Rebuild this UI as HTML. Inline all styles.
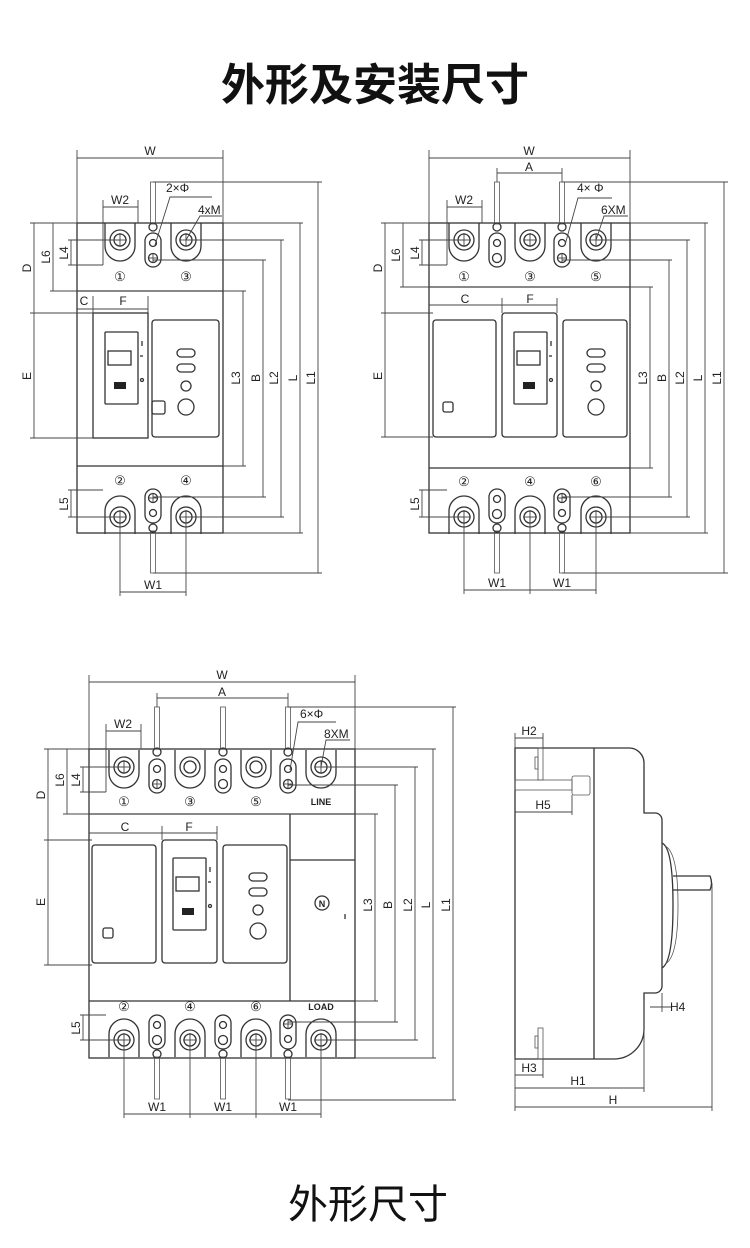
<!DOCTYPE html>
<html><head><meta charset="utf-8"><style>
html,body{margin:0;padding:0;background:#fff;}
svg{display:block;}
text{font-family:"Liberation Sans",Arial,sans-serif;fill:#222;}
.t{font-family:"Liberation Sans","Noto Sans CJK SC",sans-serif;}
.b{fill:none;stroke:#333;stroke-width:1.3;}
.d{fill:none;stroke:#444;stroke-width:0.9;}
.r{fill:none;stroke:#555;stroke-width:0.8;}
.lb{font-size:12px;}
</style></head><body>
<svg width="750" height="1248" viewBox="0 0 750 1248" xmlns="http://www.w3.org/2000/svg">
<defs>
<g id="cx"><circle r="10" class="b"/><circle r="6" class="b"/><line x1="-7" y1="0" x2="7" y2="0" class="d"/><line x1="0" y1="-7" x2="0" y2="7" class="d"/></g>
<g id="pl"><circle r="10" class="b"/><circle r="6" class="b"/></g>
<path id="lugT" d="M-15,-17 V6 A15,15 0 0 0 15,6 V-17" class="b"/>
<path id="lugB" d="M-15,17 V-6 A15,15 0 0 1 15,-6 V17" class="b"/>
<g id="slotT"><rect x="-8" y="-17" width="16" height="34" rx="8" class="b"/><circle cy="-7" r="3.5" class="b"/><circle cy="8" r="4.5" class="b"/><line x1="-4.5" y1="8" x2="4.5" y2="8" class="d"/><line x1="0" y1="3.5" x2="0" y2="12.5" class="d"/></g>
<g id="slotB"><rect x="-8" y="-17" width="16" height="34" rx="8" class="b"/><circle cy="7" r="3.5" class="b"/><circle cy="-8" r="4.5" class="b"/><line x1="-4.5" y1="-8" x2="4.5" y2="-8" class="d"/><line x1="0" y1="-12.5" x2="0" y2="-3.5" class="d"/></g>
<g id="slotP"><rect x="-8" y="-17" width="16" height="34" rx="8" class="b"/><circle cy="-7" r="3.5" class="b"/><circle cy="8" r="4.5" class="b"/></g>
<g id="rodT"><rect x="-2.5" y="0" width="5" height="42" class="r"/><circle cy="45" r="4" class="b"/></g>
<g id="rodB"><rect x="-2.5" y="0" width="5" height="42" class="r"/><circle cy="-3" r="4" class="b"/></g>
<g id="handle"><rect x="0" y="0" width="33" height="72" rx="1" class="b"/><rect x="3" y="19" width="23" height="14" class="b"/><rect x="9" y="50" width="12" height="7" fill="#222"/><line x1="37" y1="9" x2="37" y2="14" class="b"/><line x1="35" y1="24" x2="38" y2="24" class="b"/><circle cx="37" cy="48" r="1.5" class="b"/></g>
<g id="leds"><rect x="-9" y="-4" width="18" height="8" rx="4" class="b"/><rect x="-9" y="11" width="18" height="8" rx="4" class="b"/><circle cx="0" cy="33" r="5" class="b"/><circle cx="0" cy="54" r="8" class="b"/></g>
</defs>

<text x="375" y="100" text-anchor="middle" class="t" style="font-size:44px;font-weight:bold;fill:#111">外形及安装尺寸</text>
<text x="368" y="1218" text-anchor="middle" class="t" style="font-size:40px;fill:#111">外形尺寸</text>

<!-- ============ DRAWING 1 ============ -->
<rect x="77" y="223" width="146" height="310" class="b"/>
<line x1="77" y1="291" x2="223" y2="291" class="b"/>
<line x1="77" y1="466" x2="223" y2="466" class="b"/>
<use href="#lugT" x="120" y="240"/><use href="#cx" x="120" y="240"/>
<use href="#lugT" x="186" y="240"/><use href="#cx" x="186" y="240"/>
<use href="#lugB" x="120" y="517"/><use href="#cx" x="120" y="517"/>
<use href="#lugB" x="186" y="517"/><use href="#cx" x="186" y="517"/>
<use href="#slotT" x="153" y="250"/><use href="#slotB" x="153" y="506"/>
<use href="#rodT" x="153" y="182"/><use href="#rodB" x="153" y="531"/>
<text x="120" y="281" text-anchor="middle" style="font-size:13px">①</text>
<text x="186" y="281" text-anchor="middle" style="font-size:13px">③</text>
<text x="120" y="485" text-anchor="middle" style="font-size:13px">②</text>
<text x="186" y="485" text-anchor="middle" style="font-size:13px">④</text>
<rect x="93" y="313" width="55" height="125" class="b"/>
<use href="#handle" x="105" y="332"/>
<rect x="152" y="320" width="67" height="117" rx="3" class="b"/>
<use href="#leds" x="186" y="353"/>
<rect x="152" y="401" width="13" height="13" rx="2" class="b"/>
<line x1="77" y1="158" x2="223" y2="158" class="d"/><line x1="77" y1="150" x2="77" y2="223" class="d"/><line x1="223" y1="150" x2="223" y2="223" class="d"/>
<text x="150" y="155" text-anchor="middle" class="lb">W</text>
<line x1="103" y1="207" x2="138" y2="207" class="d"/><line x1="103" y1="200" x2="103" y2="265" class="d"/><line x1="138" y1="200" x2="138" y2="223" class="d"/>
<text x="120" y="204" text-anchor="middle" class="lb">W2</text>
<text x="166" y="192" class="lb">2×Φ</text><polyline points="212,197 170,197 155,245" class="d"/>
<text x="198" y="214" class="lb">4xM</text><polyline points="222,216 200,216 186,240" class="d"/>
<line x1="34" y1="223" x2="34" y2="438" class="d"/><line x1="30" y1="223" x2="77" y2="223" class="d"/><line x1="30" y1="313" x2="93" y2="313" class="d"/><line x1="30" y1="438" x2="93" y2="438" class="d"/>
<text transform="translate(31,268) rotate(-90)" text-anchor="middle" class="lb">D</text>
<text transform="translate(31,376) rotate(-90)" text-anchor="middle" class="lb">E</text>
<line x1="53" y1="223" x2="53" y2="291" class="d"/><line x1="50" y1="291" x2="246" y2="291" class="d"/>
<text transform="translate(50,257) rotate(-90)" text-anchor="middle" class="lb">L6</text>
<line x1="71" y1="240" x2="71" y2="265" class="d"/><line x1="68" y1="240" x2="120" y2="240" class="d"/><line x1="68" y1="265" x2="103" y2="265" class="d"/>
<text transform="translate(68,253) rotate(-90)" text-anchor="middle" class="lb">L4</text>
<line x1="71" y1="490" x2="71" y2="517" class="d"/><line x1="68" y1="490" x2="103" y2="490" class="d"/><line x1="68" y1="517" x2="120" y2="517" class="d"/>
<text transform="translate(68,504) rotate(-90)" text-anchor="middle" class="lb">L5</text>
<line x1="77" y1="309" x2="148" y2="309" class="d"/><line x1="93" y1="296" x2="93" y2="313" class="d"/><line x1="148" y1="296" x2="148" y2="313" class="d"/>
<text x="84" y="305" text-anchor="middle" class="lb">C</text><text x="123" y="305" text-anchor="middle" class="lb">F</text>
<line x1="243" y1="291" x2="243" y2="466" class="d"/><line x1="223" y1="466" x2="246" y2="466" class="d"/>
<line x1="263" y1="260" x2="263" y2="497" class="d"/><line x1="153" y1="260" x2="266" y2="260" class="d"/><line x1="153" y1="497" x2="266" y2="497" class="d"/>
<line x1="281" y1="240" x2="281" y2="517" class="d"/><line x1="186" y1="240" x2="284" y2="240" class="d"/><line x1="186" y1="517" x2="284" y2="517" class="d"/>
<line x1="300" y1="223" x2="300" y2="533" class="d"/><line x1="223" y1="223" x2="303" y2="223" class="d"/><line x1="223" y1="533" x2="303" y2="533" class="d"/>
<line x1="318" y1="182" x2="318" y2="573" class="d"/><line x1="153" y1="182" x2="322" y2="182" class="d"/><line x1="153" y1="573" x2="322" y2="573" class="d"/>
<text transform="translate(240,378) rotate(-90)" text-anchor="middle" class="lb">L3</text>
<text transform="translate(260,378) rotate(-90)" text-anchor="middle" class="lb">B</text>
<text transform="translate(278,378) rotate(-90)" text-anchor="middle" class="lb">L2</text>
<text transform="translate(297,378) rotate(-90)" text-anchor="middle" class="lb">L</text>
<text transform="translate(315,378) rotate(-90)" text-anchor="middle" class="lb">L1</text>
<line x1="120" y1="592" x2="186" y2="592" class="d"/><line x1="120" y1="517" x2="120" y2="596" class="d"/><line x1="186" y1="517" x2="186" y2="596" class="d"/>
<text x="153" y="589" text-anchor="middle" class="lb">W1</text>

<!-- ============ DRAWING 2 ============ -->
<rect x="429" y="223" width="201" height="310" class="b"/>
<line x1="429" y1="287" x2="630" y2="287" class="b"/>
<line x1="429" y1="468" x2="630" y2="468" class="b"/>
<use href="#lugT" x="464" y="240"/><use href="#cx" x="464" y="240"/>
<use href="#lugT" x="530" y="240"/><use href="#cx" x="530" y="240"/>
<use href="#lugT" x="596" y="240"/><use href="#cx" x="596" y="240"/>
<use href="#lugB" x="464" y="517"/><use href="#cx" x="464" y="517"/>
<use href="#lugB" x="530" y="517"/><use href="#cx" x="530" y="517"/>
<use href="#lugB" x="596" y="517"/><use href="#cx" x="596" y="517"/>
<use href="#slotP" x="497" y="250"/><use href="#slotT" x="562" y="250"/>
<use href="#slotP" x="497" y="506"/><use href="#slotB" x="562" y="506"/>
<use href="#rodT" x="497" y="182"/><use href="#rodT" x="562" y="182"/>
<use href="#rodB" x="497" y="531"/><use href="#rodB" x="562" y="531"/>
<text x="464" y="281" text-anchor="middle" style="font-size:13px">①</text>
<text x="530" y="281" text-anchor="middle" style="font-size:13px">③</text>
<text x="596" y="281" text-anchor="middle" style="font-size:13px">⑤</text>
<text x="464" y="486" text-anchor="middle" style="font-size:13px">②</text>
<text x="530" y="486" text-anchor="middle" style="font-size:13px">④</text>
<text x="596" y="486" text-anchor="middle" style="font-size:13px">⑥</text>
<rect x="433" y="320" width="63" height="117" rx="3" class="b"/>
<rect x="443" y="402" width="10" height="10" rx="2" class="b"/>
<rect x="502" y="313" width="55" height="124" rx="3" class="b"/>
<use href="#handle" x="514" y="332"/>
<rect x="563" y="320" width="64" height="117" rx="3" class="b"/>
<use href="#leds" x="596" y="353"/>
<line x1="429" y1="158" x2="630" y2="158" class="d"/><line x1="429" y1="150" x2="429" y2="223" class="d"/><line x1="630" y1="150" x2="630" y2="223" class="d"/>
<text x="529" y="155" text-anchor="middle" class="lb">W</text>
<line x1="497" y1="173" x2="562" y2="173" class="d"/><line x1="497" y1="168" x2="497" y2="182" class="d"/><line x1="562" y1="168" x2="562" y2="182" class="d"/>
<text x="529" y="171" text-anchor="middle" class="lb">A</text>
<line x1="447" y1="207" x2="482" y2="207" class="d"/><line x1="447" y1="200" x2="447" y2="265" class="d"/><line x1="482" y1="200" x2="482" y2="223" class="d"/>
<text x="464" y="204" text-anchor="middle" class="lb">W2</text>
<text x="577" y="192" class="lb">4× Φ</text><polyline points="612,198 578,198 565,245" class="d"/>
<text x="601" y="214" class="lb">6XM</text><polyline points="628,216 604,216 596,240" class="d"/>
<line x1="385" y1="223" x2="385" y2="437" class="d"/><line x1="381" y1="223" x2="429" y2="223" class="d"/><line x1="381" y1="313" x2="433" y2="313" class="d"/><line x1="381" y1="437" x2="433" y2="437" class="d"/>
<text transform="translate(382,268) rotate(-90)" text-anchor="middle" class="lb">D</text>
<text transform="translate(382,376) rotate(-90)" text-anchor="middle" class="lb">E</text>
<line x1="403" y1="223" x2="403" y2="287" class="d"/><line x1="400" y1="287" x2="653" y2="287" class="d"/>
<text transform="translate(400,255) rotate(-90)" text-anchor="middle" class="lb">L6</text>
<line x1="422" y1="240" x2="422" y2="265" class="d"/><line x1="419" y1="240" x2="464" y2="240" class="d"/><line x1="419" y1="265" x2="447" y2="265" class="d"/>
<text transform="translate(419,253) rotate(-90)" text-anchor="middle" class="lb">L4</text>
<line x1="422" y1="490" x2="422" y2="517" class="d"/><line x1="419" y1="490" x2="447" y2="490" class="d"/><line x1="419" y1="517" x2="464" y2="517" class="d"/>
<text transform="translate(419,504) rotate(-90)" text-anchor="middle" class="lb">L5</text>
<line x1="429" y1="305" x2="557" y2="305" class="d"/><line x1="502" y1="298" x2="502" y2="313" class="d"/><line x1="557" y1="298" x2="557" y2="313" class="d"/>
<text x="465" y="303" text-anchor="middle" class="lb">C</text><text x="530" y="303" text-anchor="middle" class="lb">F</text>
<line x1="650" y1="287" x2="650" y2="468" class="d"/><line x1="630" y1="468" x2="653" y2="468" class="d"/>
<line x1="669" y1="260" x2="669" y2="497" class="d"/><line x1="562" y1="260" x2="672" y2="260" class="d"/><line x1="562" y1="497" x2="672" y2="497" class="d"/>
<line x1="687" y1="240" x2="687" y2="517" class="d"/><line x1="596" y1="240" x2="690" y2="240" class="d"/><line x1="596" y1="517" x2="690" y2="517" class="d"/>
<line x1="705" y1="223" x2="705" y2="533" class="d"/><line x1="630" y1="223" x2="708" y2="223" class="d"/><line x1="630" y1="533" x2="708" y2="533" class="d"/>
<line x1="724" y1="182" x2="724" y2="573" class="d"/><line x1="562" y1="182" x2="728" y2="182" class="d"/><line x1="562" y1="573" x2="728" y2="573" class="d"/>
<text transform="translate(647,378) rotate(-90)" text-anchor="middle" class="lb">L3</text>
<text transform="translate(666,378) rotate(-90)" text-anchor="middle" class="lb">B</text>
<text transform="translate(684,378) rotate(-90)" text-anchor="middle" class="lb">L2</text>
<text transform="translate(702,378) rotate(-90)" text-anchor="middle" class="lb">L</text>
<text transform="translate(721,378) rotate(-90)" text-anchor="middle" class="lb">L1</text>
<line x1="464" y1="590" x2="596" y2="590" class="d"/><line x1="464" y1="517" x2="464" y2="594" class="d"/><line x1="530" y1="517" x2="530" y2="594" class="d"/><line x1="596" y1="517" x2="596" y2="594" class="d"/>
<text x="497" y="587" text-anchor="middle" class="lb">W1</text><text x="562" y="587" text-anchor="middle" class="lb">W1</text>

<!-- ============ DRAWING 3 ============ -->
<rect x="89" y="749" width="266" height="309" class="b"/>
<line x1="89" y1="814" x2="355" y2="814" class="b"/>
<line x1="89" y1="1001" x2="355" y2="1001" class="b"/>
<line x1="290" y1="814" x2="290" y2="1001" class="b"/>
<line x1="290" y1="860" x2="355" y2="860" class="b"/>
<use href="#lugT" x="124" y="767"/><use href="#cx" x="124" y="767"/>
<use href="#lugT" x="190" y="767"/><use href="#pl" x="190" y="767"/>
<use href="#lugT" x="256" y="767"/><use href="#pl" x="256" y="767"/>
<use href="#lugT" x="321" y="767"/><use href="#cx" x="321" y="767"/>
<use href="#lugB" x="124" y="1040"/><use href="#cx" x="124" y="1040"/>
<use href="#lugB" x="190" y="1040"/><use href="#cx" x="190" y="1040"/>
<use href="#lugB" x="256" y="1040"/><use href="#cx" x="256" y="1040"/>
<use href="#lugB" x="321" y="1040"/><use href="#cx" x="321" y="1040"/>
<use href="#slotT" x="157" y="776"/><use href="#slotP" x="223" y="776"/><use href="#slotT" x="288" y="776"/>
<use href="#slotP" x="157" y="1032"/><use href="#slotP" x="223" y="1032"/><use href="#slotB" x="288" y="1032"/>
<use href="#rodT" x="157" y="707"/><use href="#rodT" x="223" y="707"/><use href="#rodT" x="288" y="707"/>
<use href="#rodB" x="157" y="1057"/><use href="#rodB" x="223" y="1057"/><use href="#rodB" x="288" y="1057"/>
<text x="124" y="806" text-anchor="middle" style="font-size:13px">①</text>
<text x="190" y="806" text-anchor="middle" style="font-size:13px">③</text>
<text x="256" y="806" text-anchor="middle" style="font-size:13px">⑤</text>
<text x="321" y="805" text-anchor="middle" style="font-size:9px;font-weight:bold">LINE</text>
<text x="124" y="1011" text-anchor="middle" style="font-size:13px">②</text>
<text x="190" y="1011" text-anchor="middle" style="font-size:13px">④</text>
<text x="256" y="1011" text-anchor="middle" style="font-size:13px">⑥</text>
<text x="321" y="1010" text-anchor="middle" style="font-size:9px;font-weight:bold">LOAD</text>
<rect x="92" y="845" width="64" height="118" rx="3" class="b"/>
<rect x="103" y="928" width="10" height="10" rx="2" class="b"/>
<rect x="162" y="840" width="55" height="123" rx="3" class="b"/>
<use href="#handle" x="173" y="858"/>
<rect x="223" y="845" width="64" height="118" rx="3" class="b"/>
<use href="#leds" x="258" y="877"/>
<circle cx="322" cy="903" r="7" class="b"/><text x="322" y="907" text-anchor="middle" style="font-size:9px;font-weight:bold">N</text>
<line x1="345" y1="914" x2="345" y2="919" class="b"/>
<line x1="89" y1="682" x2="355" y2="682" class="d"/><line x1="89" y1="675" x2="89" y2="749" class="d"/><line x1="355" y1="675" x2="355" y2="749" class="d"/>
<text x="222" y="679" text-anchor="middle" class="lb">W</text>
<line x1="157" y1="698" x2="288" y2="698" class="d"/><line x1="157" y1="693" x2="157" y2="707" class="d"/><line x1="288" y1="693" x2="288" y2="707" class="d"/>
<text x="222" y="696" text-anchor="middle" class="lb">A</text>
<line x1="106" y1="731" x2="141" y2="731" class="d"/><line x1="106" y1="724" x2="106" y2="792" class="d"/><line x1="141" y1="724" x2="141" y2="749" class="d"/>
<text x="123" y="728" text-anchor="middle" class="lb">W2</text>
<text x="300" y="718" class="lb">6×Φ</text><polyline points="336,722 298,722 290,770" class="d"/>
<text x="324" y="738" class="lb">8XM</text><polyline points="350,740 326,740 321,767" class="d"/>
<line x1="48" y1="749" x2="48" y2="965" class="d"/><line x1="44" y1="749" x2="89" y2="749" class="d"/><line x1="44" y1="840" x2="92" y2="840" class="d"/><line x1="44" y1="965" x2="92" y2="965" class="d"/>
<text transform="translate(45,795) rotate(-90)" text-anchor="middle" class="lb">D</text>
<text transform="translate(45,902) rotate(-90)" text-anchor="middle" class="lb">E</text>
<line x1="67" y1="749" x2="67" y2="814" class="d"/><line x1="63" y1="814" x2="378" y2="814" class="d"/>
<text transform="translate(64,780) rotate(-90)" text-anchor="middle" class="lb">L6</text>
<line x1="83" y1="767" x2="83" y2="792" class="d"/><line x1="80" y1="767" x2="124" y2="767" class="d"/><line x1="80" y1="792" x2="106" y2="792" class="d"/>
<text transform="translate(80,780) rotate(-90)" text-anchor="middle" class="lb">L4</text>
<line x1="83" y1="1015" x2="83" y2="1040" class="d"/><line x1="80" y1="1015" x2="106" y2="1015" class="d"/><line x1="80" y1="1040" x2="124" y2="1040" class="d"/>
<text transform="translate(80,1028) rotate(-90)" text-anchor="middle" class="lb">L5</text>
<line x1="89" y1="833" x2="217" y2="833" class="d"/><line x1="162" y1="826" x2="162" y2="840" class="d"/><line x1="217" y1="826" x2="217" y2="840" class="d"/>
<text x="125" y="831" text-anchor="middle" class="lb">C</text><text x="189" y="831" text-anchor="middle" class="lb">F</text>
<line x1="375" y1="814" x2="375" y2="1001" class="d"/><line x1="355" y1="1001" x2="378" y2="1001" class="d"/>
<line x1="395" y1="785" x2="395" y2="1022" class="d"/><line x1="288" y1="785" x2="398" y2="785" class="d"/><line x1="288" y1="1022" x2="398" y2="1022" class="d"/>
<line x1="415" y1="767" x2="415" y2="1040" class="d"/><line x1="321" y1="767" x2="418" y2="767" class="d"/><line x1="321" y1="1040" x2="418" y2="1040" class="d"/>
<line x1="433" y1="749" x2="433" y2="1058" class="d"/><line x1="355" y1="749" x2="436" y2="749" class="d"/><line x1="355" y1="1058" x2="436" y2="1058" class="d"/>
<line x1="453" y1="707" x2="453" y2="1100" class="d"/><line x1="288" y1="707" x2="456" y2="707" class="d"/><line x1="288" y1="1100" x2="456" y2="1100" class="d"/>
<text transform="translate(372,905) rotate(-90)" text-anchor="middle" class="lb">L3</text>
<text transform="translate(392,905) rotate(-90)" text-anchor="middle" class="lb">B</text>
<text transform="translate(412,905) rotate(-90)" text-anchor="middle" class="lb">L2</text>
<text transform="translate(430,905) rotate(-90)" text-anchor="middle" class="lb">L</text>
<text transform="translate(450,905) rotate(-90)" text-anchor="middle" class="lb">L1</text>
<line x1="124" y1="1114" x2="321" y2="1114" class="d"/>
<line x1="124" y1="1040" x2="124" y2="1118" class="d"/><line x1="190" y1="1040" x2="190" y2="1118" class="d"/><line x1="256" y1="1040" x2="256" y2="1118" class="d"/><line x1="321" y1="1040" x2="321" y2="1118" class="d"/>
<text x="157" y="1111" text-anchor="middle" class="lb">W1</text><text x="223" y="1111" text-anchor="middle" class="lb">W1</text><text x="288" y="1111" text-anchor="middle" class="lb">W1</text>

<!-- ============ SIDE VIEW ============ -->
<path d="M515,748 H629 A15,15 0 0 1 644,763 V813 H655 A7,7 0 0 1 662,820 V986 A7,7 0 0 1 655,993 H644 V1029 A30,30 0 0 1 614,1059 H515 Z" class="b"/>
<line x1="594" y1="748" x2="594" y2="1059" class="b"/>
<path d="M662,843 Q673,848 673,905 Q673,962 662,968" class="b"/>
<path d="M665,846 Q678,852 678,905 Q678,958 665,964" class="r"/>
<path d="M673,876 H710 Q713,883 710,890 H673" class="b"/>
<rect x="515" y="780" width="57" height="10" class="r"/>
<rect x="572" y="776" width="18" height="19" rx="2" class="r"/>
<rect x="538" y="748" width="5" height="32" class="r"/><rect x="535" y="757" width="3" height="12" class="r"/>
<rect x="538" y="1028" width="5" height="31" class="r"/><rect x="535" y="1036" width="3" height="12" class="r"/>
<line x1="515" y1="738" x2="543" y2="738" class="d"/><line x1="515" y1="733" x2="515" y2="748" class="d"/><line x1="543" y1="733" x2="543" y2="748" class="d"/>
<text x="529" y="735" text-anchor="middle" class="lb">H2</text>
<line x1="515" y1="812" x2="572" y2="812" class="d"/><line x1="572" y1="795" x2="572" y2="815" class="d"/>
<text x="543" y="809" text-anchor="middle" class="lb">H5</text>
<line x1="515" y1="1075" x2="543" y2="1075" class="d"/><line x1="543" y1="1059" x2="543" y2="1078" class="d"/>
<text x="529" y="1072" text-anchor="middle" class="lb">H3</text>
<line x1="515" y1="1088" x2="644" y2="1088" class="d"/><line x1="644" y1="1000" x2="644" y2="1092" class="d"/>
<text x="578" y="1085" text-anchor="middle" class="lb">H1</text>
<line x1="515" y1="1107" x2="712" y2="1107" class="d"/><line x1="712" y1="883" x2="712" y2="1111" class="d"/><line x1="515" y1="1055" x2="515" y2="1111" class="d"/>
<text x="613" y="1104" text-anchor="middle" class="lb">H</text>
<line x1="662" y1="993" x2="662" y2="1012" class="d"/><line x1="650" y1="1007" x2="672" y2="1007" class="d"/>
<text x="670" y="1011" class="lb">H4</text>
</svg>
</body></html>
